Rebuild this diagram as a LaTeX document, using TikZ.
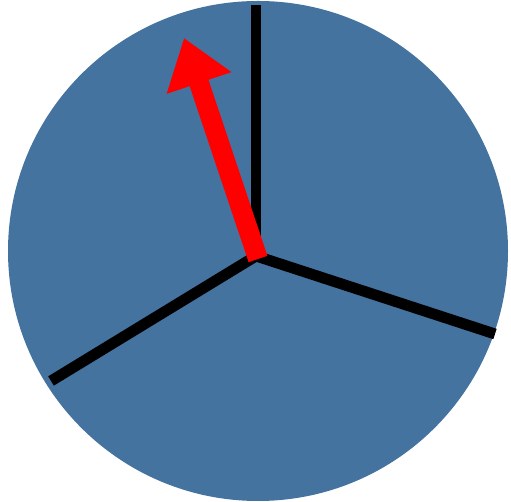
\documentclass[tikz,border=0pt]{standalone}
\usetikzlibrary{arrows.meta}
\definecolor{dialblue}{RGB}{68,115,159}
\begin{document}
\begin{tikzpicture}[x=0.02cm, y=-0.02cm]
        \useasboundingbox (0, 0) rectangle (511, 502);
        \fill[dialblue] (258, 251) circle (250);

        \coordinate (c) at (256, 256);
        \coordinate (top) at (256, 5);
        \coordinate (right) at (495, 334);
        \coordinate (left) at (51, 381);
        \coordinate (tip) at (184, 38);

        \draw[line width=6.2pt] (c) -- (top);
        \draw[line width=6.2pt] (c) -- (right);
        \draw[line width=6.2pt] (c) -- (left);

        \draw[-{Triangle[length=27pt, width=37pt]}, red, line width=11.3pt] (258, 259) -- (tip);
    \end{tikzpicture}
\end{document}
